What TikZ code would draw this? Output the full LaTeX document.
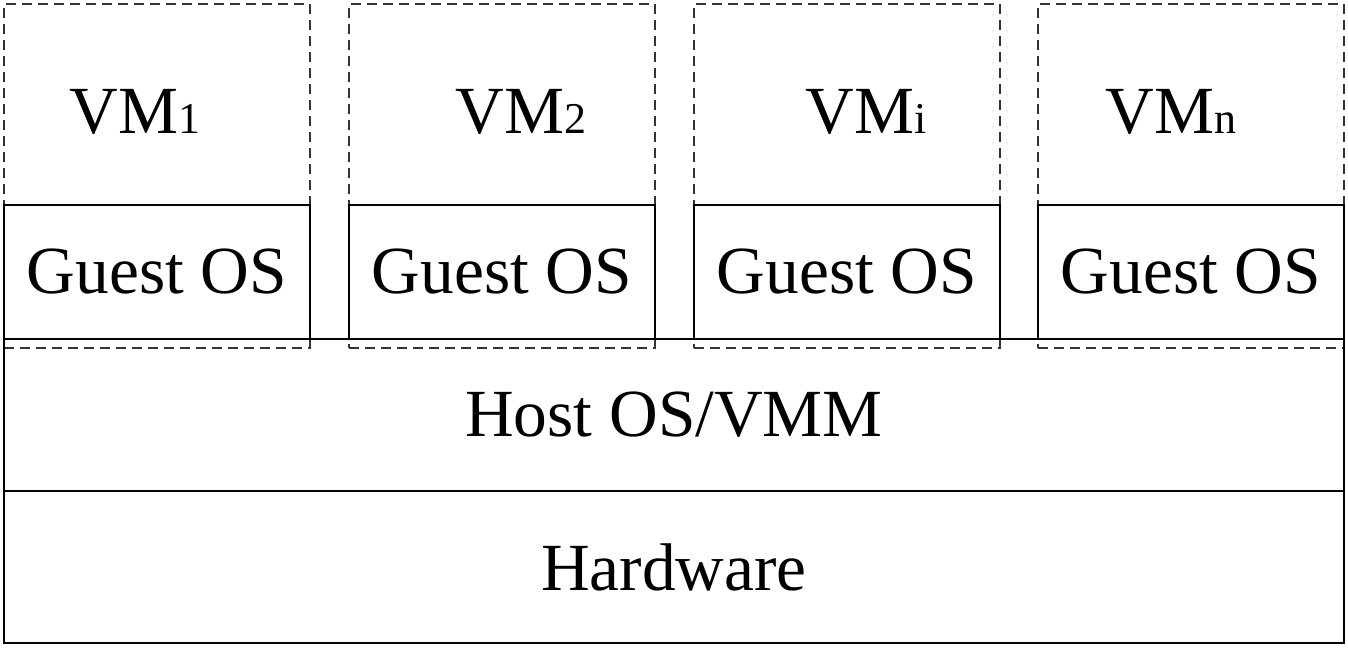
\documentclass[tikz,border=0pt]{standalone}
\usepackage{fontspec}
\setmainfont{Liberation Serif}
\usepackage{tikz}
\usetikzlibrary{positioning}

\tikzset{
  vmbox/.style={draw=black!80, line width=0.9pt, dash pattern=on 5pt off 3pt, minimum width=153pt, minimum height=172pt, inner sep=0pt, outer sep=0pt, anchor=north west},
  guestbox/.style={draw, line width=1pt, minimum width=153pt, minimum height=67pt, inner sep=0pt, outer sep=0pt, anchor=north west, font=\fontsize{33.7}{36}\selectfont},
  layerbox/.style={draw, line width=1pt, minimum width=670pt, minimum height=76pt, inner sep=0pt, outer sep=0pt, anchor=north west, font=\fontsize{33.7}{36}\selectfont},
  vmlabel/.style={anchor=base, inner sep=0pt, font=\fontsize{33.7}{36}\selectfont}
}
\newcommand{\vmsub}[1]{{\fontsize{22}{24}\selectfont #1}}

\begin{document}
\begin{tikzpicture}[x=0.5pt, y=-0.5pt]
\useasboundingbox (0,0) rectangle (1348,648);

% virtual machines (dashed frames)
\node[vmbox] (vm1) at (4,4) {};
\node[vmbox] (vm2) at (349,4) {};
\node[vmbox] (vmi) at (694,4) {};
\node[vmbox] (vmn) at (1038,4) {};

% host and hardware layers
\node[layerbox] (host) at (4,339) {Host OS/VMM};
\node[layerbox, below=0pt of host] (hw) {Hardware};

% guest systems
\node[guestbox] (g1) at (4,205) {Guest OS};
\node[guestbox] (g2) at (349,205) {Guest OS};
\node[guestbox] (gi) at (694,205) {Guest OS};
\node[guestbox] (gn) at (1038,205) {Guest OS};

% labels
\node[vmlabel] (l1) at (135,133) {VM\vmsub{1}};
\node[vmlabel] (l2) at (521,133) {VM\vmsub{2}};
\node[vmlabel] (li) at (866,133) {VM\vmsub{i}};
\node[vmlabel] (ln) at (1171,133) {VM\vmsub{n}};
\end{tikzpicture}
\end{document}
